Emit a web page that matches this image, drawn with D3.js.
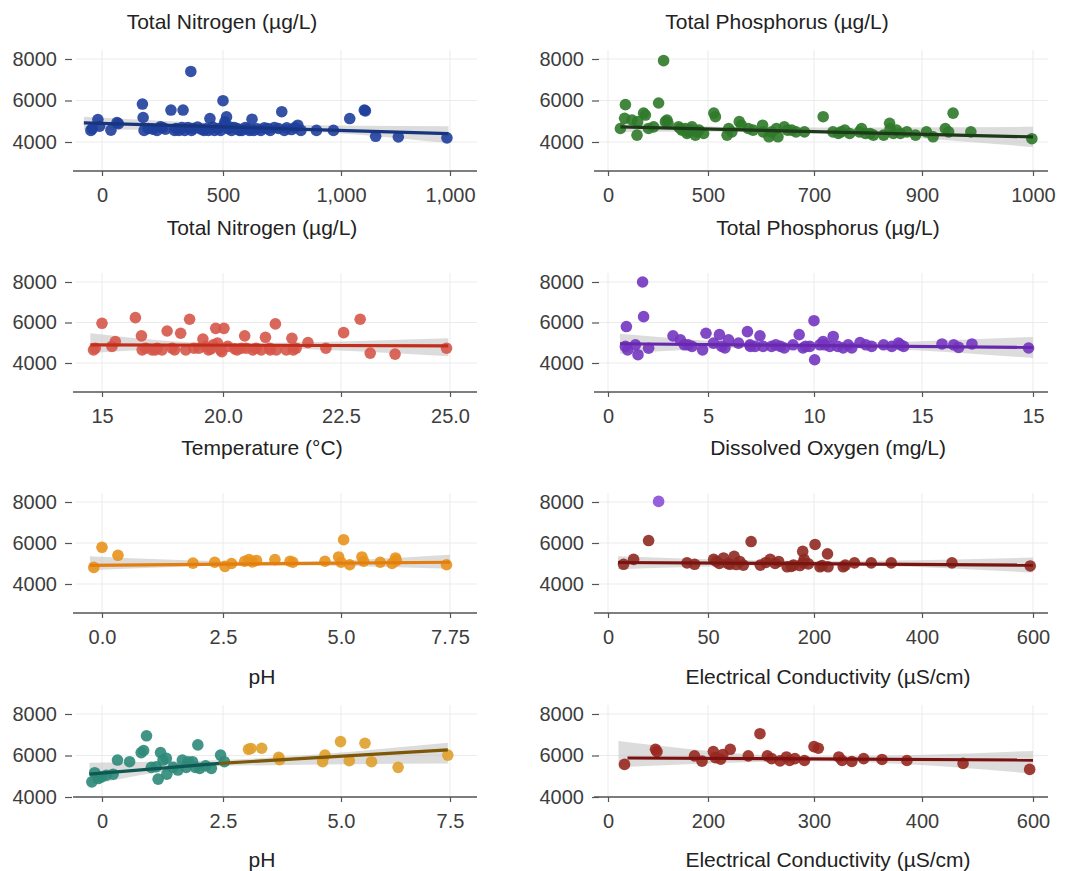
<!DOCTYPE html>
<html>
<head>
<meta charset="utf-8">
<script src="https://cdn.jsdelivr.net/npm/d3@7/dist/d3.min.js"></script>
<style>
body { margin: 0; background: #ffffff; }
svg text { font-family: "Liberation Sans", Arial, sans-serif; }
</style>
</head>
<body>
<svg id="chart" width="1083" height="871"></svg>
<script>
// ---- data ----
var yTicks = [4000, 6000, 8000];

// Total Nitrogen
var nitrogenTicks = [0, 500, 1000, 1500];
var nitrogenTickLabels = ["0", "500", "1,000", "1,000"];
var nitrogenPoints = [[-46,4560],[-40,4640],[-17,5080],[-10,4760],[37,4570],[62,4940],[68,4880],[167,5830],[170,5180],
    [174,4560],[191,4650],[227,4560],[241,4730],[262,4620],[285,5540],[306,4650],[318,4560],[335,5540],[342,4560],
    [355,4700],[367,7400],[378,4650],[395,4720],[421,4560],[429,4640],[446,5130],[458,4720],[465,4560],[480,4650],
    [500,5990],[505,4820],[508,4970],[515,5210],[522,4640],[536,4560],[548,4700],[558,4640],[570,4560],[580,4560],
    [595,4700],[605,4640],[623,5100],[630,4560],[645,4640],[660,4560],[675,4680],[700,4560],[718,4700],[735,4650],
    [749,5460],[760,4560],[790,4600],[817,4810],[830,4560],[896,4560],[968,4560],[1040,5130],[1107,5540],[1112,5500],
    [1159,4275],[1263,4240],[1486,4200],
    [210,4620],[250,4700],[300,4560],[330,4700],[370,4560],[410,4620],[440,4560],[490,4560],[530,4720],[565,4620],
    [612,4560],[690,4650],[770,4680],[805,4700]];
var nitrogenFit = [[-75,4920],[1493,4405]];
var nitrogenBand = [[-75,4600,5215],[700,4560,4840],[1493,3950,4760]];

// Total Phosphorus
var phosphorusTicks = [0, 500, 700, 900, 1000];
var phosphorusTickLabels = ["0", "500", "700", "900", "1000"];
var phosphorusPoints = [[62,4650],[83,5140],[87,5800],[120,5060],[145,4330],[148,4980],[178,5390],[187,5300],[203,4650],
    [228,4730],[253,5880],[278,7920],[287,4980],[295,5060],[300,4900],[353,4730],[370,4570],[387,4650],[403,4490],
    [420,4730],[437,4330],[455,4570],[478,4410],[511,5390],[514,5220],[536,4330],[539,4650],[559,4980],[563,4810],
    [576,4650],[603,4810],[604,4490],[615,4250],[629,4650],[632,4250],[644,4730],[650,4570],[666,4490],[682,4490],
    [717,5220],[735,4490],[745,4410],[757,4570],[766,4410],[784,4490],[788,4650],[804,4410],[810,4330],[829,4330],
    [840,4900],[841,4650],[847,4410],[860,4410],[872,4490],[888,4330],[904,4490],[910,4250],[921,4650],[924,4490],
    [928,5390],[944,4490],[999,4160],
    [362,4650],[395,4410],[412,4570],[445,4490],[545,4490],[585,4570],[620,4490],[658,4570],[750,4490],[795,4410],
    [853,4570]];
var phosphorusFit = [[62,4730],[1000,4245]];
var phosphorusBand = [[62,4490,4980],[600,4500,4700],[1000,3755,4730]];

// Temperature
var temperatureTicks = [15, 20, 22.5, 25];
var temperatureTickLabels = ["15", "20.0", "22.5", "25.0"];
var temperaturePoints = [[14.65,4650],[14.72,4730],[15.0,5960],[15.41,4820],[15.55,5060],[16.38,6240],[16.63,5340],
    [16.66,4650],[17.07,4650],[17.28,4730],[17.48,4650],[17.69,5580],[17.9,4730],[18.25,5470],[18.46,4650],[18.62,6160],
    [19.0,4730],[19.17,5180],[19.28,4820],[19.5,4700],[19.6,4900],[19.7,5710],[19.77,4980],[19.9,4650],[20.02,5710],
    [20.1,4820],[20.25,4700],[20.39,4730],[20.46,5340],[20.49,4730],[20.63,4650],[20.81,4650],[20.9,5270],[20.99,4730],
    [21.11,5930],[21.13,4650],[21.34,4650],[21.46,5220],[21.49,4650],[21.8,5010],[22.18,4730],[22.56,5500],[22.94,6160],
    [23.17,4490],[23.74,4440],[24.92,4730],
    [16.8,4730],[17.2,4650],[18.0,4650],[18.8,4730],[19.4,4650],[19.95,4560],[20.3,4650],[20.7,4730],[21.0,4650],
    [21.55,4730]];
var temperatureFit = [[14.52,4900],[24.96,4850]];
var temperatureBand = [[14.52,4490,5470],[20,4760,4980],[24.96,4330,5220]];

// Dissolved Oxygen
var oxygenTicks = [0, 5, 10, 15, 20];
var oxygenTickLabels = ["0", "5", "10", "15", "15"];
var oxygenPoints = [[0.92,5800],[0.87,4820],[0.98,4650],[1.37,4900],[1.5,4410],[1.73,8000],[1.78,6290],[2.03,4730],
    [3.25,5340],[3.62,5140],[3.82,4900],[4.2,4820],[4.73,4650],[4.9,5470],[5.26,4980],[5.54,5400],[5.65,4820],
    [5.97,5140],[6.44,4980],[6.86,5550],[6.98,4900],[7.22,4820],[7.45,5340],[7.6,4820],[8.0,4820],[8.42,4820],
    [8.6,4740],[9.01,4900],[9.3,5400],[9.48,4740],[9.8,4820],[10.0,6090],[10.03,4160],[10.27,4900],[10.42,5060],
    [10.73,4820],[10.89,5310],[11.35,4740],[11.58,4900],[11.75,4740],[12.13,5010],[12.67,4820],[13.22,4900],
    [13.91,4980],[14.15,4820],[15.9,4940],[16.43,4900],[16.65,4770],[17.25,4940],[19.8,4740],
    [4.0,4900],[5.8,4740],[7.0,4820],[8.2,4900],[9.6,4820],[10.5,4900],[11.1,4820],[12.4,4900],[13.6,4820],[14.0,4900]];
var oxygenFit = [[0.6,4950],[20,4770]];
var oxygenBand = [[0.6,4460,5450],[9,4800,4950],[20,4250,5290]];

// pH (orange)
var phTicks = [0, 2.5, 5, 7.5];
var phTickLabels = ["0.0", "2.5", "5.0", "7.75"];
var phPoints = [[-0.17,4810],[0,5790],[0.33,5400],[1.88,5020],[2.33,5060],[2.54,4860],[2.68,5000],[2.96,5110],
    [3.05,5190],[3.12,5080],[3.21,5150],[3.6,5190],[3.92,5110],[3.98,5060],[4.66,5110],[4.95,5320],[5.0,5060],
    [5.06,6160],[5.2,4940],[5.48,5320],[5.52,5110],[5.9,5060],[6.17,5000],[6.25,5270],[6.27,5140],[7.42,4940]];
var phFit = [[-0.25,4910],[7.5,5060]];
var phBand = [[-0.25,4670,5350],[3.5,4920,5080],[7.5,4750,5430]];

// Electrical Conductivity (row 3)
var ecTicks = [0, 50, 200, 400, 600];
var ecTickLabels = ["0", "50", "200", "400", "600"];
var ecPoints = [[7.8,4960],[12.8,5200],[20.3,6120],[39.5,5030],[43.3,4960],[58,5200],[62,5100],[72,5270],[78,5000],
    [81,4960],[87,5350],[95,5100],[100,4920],[111,6070],[124,4920],[138,5200],[145,5000],[150,5100],[162,4840],
    [171,4920],[180,4900],[184,5590],[185,5030],[186,5200],[202,5930],[211,4840],[225,5470],[226,4840],[254,4840],
    [275,5030],[306,5030],[343,5030],[454,5030],[595,4880],
    [66,5000],[90,4950],[132,5050],[168,4860],[192,4980],[215,4900],[258,4920]];
var ecOutlier = [[25.3,8030]];
var ecFit = [[5,5050],[600,4920]];
var ecBand = [[5,4720,5350],[200,4930,5120],[600,4560,5290]];

// pH (two groups)
var ph2Ticks = [0, 2.5, 5, 7.5];
var ph2TickLabels = ["0", "2.5", "5.0", "7.5"];
var ph2LowPoints = [[-0.21,4730],[-0.15,5170],[-0.08,4890],[-0.01,4970],[0.09,5050],[0.23,5100],[0.32,5780],
    [0.57,5700],[0.81,6140],[0.86,6240],[0.92,6950],[1.02,5430],[1.12,5460],[1.16,4860],[1.21,6140],[1.26,5780],
    [1.33,5860],[1.34,5100],[1.47,5430],[1.57,5300],[1.66,5780],[1.74,5430],[1.78,5700],[1.87,5700],[1.93,5430],
    [1.98,6510],[2.02,5380],[2.14,5500],[2.26,5380],[2.45,6020],[2.53,5700]];
var ph2HighPoints = [[3.04,6300],[3.09,6340],[3.32,6350],[3.68,5910],[3.7,5800],[4.61,5700],[4.66,6020],[4.99,6670],
    [5.19,5750],[5.55,6590],[5.7,5700],[6.31,5430],[7.45,6020]];
var ph2LowFit = [[-0.26,5100],[2.43,5620]];
var ph2HighFit = [[2.43,5620],[7.45,6270]];
var ph2Band = [[-0.26,4570,5650],[2.5,5490,5780],[7.45,5620,6620]];

// Electrical Conductivity (row 4)
var ec2Ticks = [0, 200, 300, 400, 600];
var ec2TickLabels = ["0", "200", "300", "400", "600"];
var ec2Points = [[33,5570],[95,6300],[98,6190],[173,5980],[188,5730],[205,6190],[207,5900],[212,5820],[214,6050],
    [221,6300],[238,5980],[249,7050],[256,5980],[260,5850],[268,5740],[274,5930],[277,5760],[282,5850],[291,5760],
    [300,6430],[304,6350],[323,5930],[326,5760],[335,5710],[346,5850],[363,5810],[386,5760],[474,5620],[594,5330]];
var ec2Fit = [[39,5880],[600,5780]];
var ec2Band = [[21,5430,6700],[300,5720,5950],[600,5130,6220]];

// ---- layout ----
var cols = [
    { tickPx: [102, 223, 341, 450], axisStart: 73, axisEnd: 477, yAxisX: 72, labelX: 262 },
    { tickPx: [608, 708, 814, 922, 1033], axisStart: 594, axisEnd: 1048, yAxisX: 599, labelX: 828 }
];
var rows = [
    { y8000: 59, y4000: 142, axisY: 171, labelY: 228 },
    { y8000: 282, y4000: 363, axisY: 392, labelY: 448 },
    { y8000: 502, y4000: 584, axisY: 613, labelY: 677 },
    { y8000: 714, y4000: 797, axisY: 797, labelY: 860 }
];

var panels = [
    { col: 0, row: 0, ticks: nitrogenTicks, tickLabels: nitrogenTickLabels, label: "Total Nitrogen (µg/L)",
      groups: [{ points: nitrogenPoints, color: "#1f3f9c" }],
      fits: [{ line: nitrogenFit, color: "#17357f" }], band: nitrogenBand },
    { col: 1, row: 0, ticks: phosphorusTicks, tickLabels: phosphorusTickLabels, label: "Total Phosphorus (µg/L)",
      groups: [{ points: phosphorusPoints, color: "#2f7a2a" }],
      fits: [{ line: phosphorusFit, color: "#1d3a18" }], band: phosphorusBand },
    { col: 0, row: 1, ticks: temperatureTicks, tickLabels: temperatureTickLabels, label: "Temperature (°C)",
      groups: [{ points: temperaturePoints, color: "#d65749" }],
      fits: [{ line: temperatureFit, color: "#c22e1b" }], band: temperatureBand },
    { col: 1, row: 1, ticks: oxygenTicks, tickLabels: oxygenTickLabels, label: "Dissolved Oxygen (mg/L)",
      groups: [{ points: oxygenPoints, color: "#7435c0" }],
      fits: [{ line: oxygenFit, color: "#6828ae" }], band: oxygenBand },
    { col: 0, row: 2, ticks: phTicks, tickLabels: phTickLabels, label: "pH",
      groups: [{ points: phPoints, color: "#e8921c" }],
      fits: [{ line: phFit, color: "#e37d0e" }], band: phBand },
    { col: 1, row: 2, ticks: ecTicks, tickLabels: ecTickLabels, label: "Electrical Conductivity (µS/cm)",
      groups: [{ points: ecPoints, color: "#8e2a22" }, { points: ecOutlier, color: "#8b4fd8" }],
      fits: [{ line: ecFit, color: "#7a1410" }], band: ecBand },
    { col: 0, row: 3, ticks: ph2Ticks, tickLabels: ph2TickLabels, label: "pH",
      groups: [{ points: ph2LowPoints, color: "#2e8a79" }, { points: ph2HighPoints, color: "#e0a02c" }],
      fits: [{ line: ph2LowFit, color: "#0e5752" }, { line: ph2HighFit, color: "#7c5808" }], band: ph2Band },
    { col: 1, row: 3, ticks: ec2Ticks, tickLabels: ec2TickLabels, label: "Electrical Conductivity (µS/cm)",
      groups: [{ points: ec2Points, color: "#982820" }],
      fits: [{ line: ec2Fit, color: "#7a1010" }], band: ec2Band }
];

var svg = d3.select("#chart");

// top titles
svg.append("text").attr("x", 222).attr("y", 22).attr("dy", "0.35em").attr("text-anchor", "middle")
    .attr("font-size", 21).attr("fill", "#222").text("Total Nitrogen (µg/L)");
svg.append("text").attr("x", 777).attr("y", 22).attr("dy", "0.35em").attr("text-anchor", "middle")
    .attr("font-size", 21).attr("fill", "#222").text("Total Phosphorus (µg/L)");

panels.forEach(drawPanel);

function drawPanel(p)
{
    var row = rows[p.row];
    var col = cols[p.col];
    var x = d3.scaleLinear().domain(p.ticks).range(col.tickPx);
    var y = d3.scaleLinear().domain([4000, 8000]).range([row.y4000, row.y8000]);
    var g = svg.append("g");

    // grid
    g.selectAll(".vgrid").data(p.ticks).enter().append("line")
        .attr("x1", d => x(d)).attr("x2", d => x(d))
        .attr("y1", row.y8000 - 9).attr("y2", row.axisY)
        .attr("stroke", "#ebebeb").attr("stroke-width", 1);
    g.selectAll(".hgrid").data(yTicks).enter().append("line")
        .attr("x1", col.axisStart + 3).attr("x2", col.axisEnd)
        .attr("y1", d => y(d)).attr("y2", d => y(d))
        .attr("stroke", "#ebebeb").attr("stroke-width", 1);

    // confidence band
    var area = d3.area()
        .x(d => x(d[0])).y0(d => y(d[1])).y1(d => y(d[2]))
        .curve(d3.curveMonotoneX);
    g.append("path").datum(p.band).attr("d", area)
        .attr("fill", "#c4c4c4").attr("opacity", 0.6);

    // points
    p.groups.forEach(function(grp)
    {
        g.selectAll(null).data(grp.points).enter().append("circle")
            .attr("cx", d => x(d[0])).attr("cy", d => y(d[1]))
            .attr("r", 5.8)
            .attr("fill", grp.color).attr("fill-opacity", 0.9);
    });

    // fitted lines
    var line = d3.line().x(d => x(d[0])).y(d => y(d[1]));
    p.fits.forEach(function(f)
    {
        g.append("path").datum(f.line).attr("d", line)
            .attr("fill", "none").attr("stroke", f.color).attr("stroke-width", 3.2);
    });

    // x axis
    g.append("line")
        .attr("x1", col.axisStart).attr("x2", col.axisEnd)
        .attr("y1", row.axisY).attr("y2", row.axisY)
        .attr("stroke", "#555").attr("stroke-width", 1.5);
    var xAxis = d3.axisBottom(x)
        .tickValues(p.ticks)
        .tickFormat(function(d, i) { return p.tickLabels[i]; })
        .tickSize(5).tickPadding(12);
    var xg = g.append("g").attr("transform", "translate(0," + row.axisY + ")").call(xAxis);
    xg.select(".domain").remove();
    xg.selectAll("line").attr("stroke", "#555").attr("stroke-width", 1.2);
    xg.selectAll("text").attr("font-size", 20).attr("fill", "#3d3d3d")
        .attr("font-family", "Liberation Sans, Arial, sans-serif");

    // y axis
    var yAxis = d3.axisLeft(y).tickValues(yTicks).tickFormat(d3.format("d")).tickSize(7).tickPadding(8);
    var yg = g.append("g").attr("transform", "translate(" + col.yAxisX + ",0)").call(yAxis);
    yg.select(".domain").remove();
    yg.selectAll("line").attr("stroke", "#555").attr("stroke-width", 1.2);
    yg.selectAll("text").attr("font-size", 20).attr("fill", "#3d3d3d")
        .attr("font-family", "Liberation Sans, Arial, sans-serif");

    // axis title
    g.append("text").attr("x", col.labelX).attr("y", row.labelY).attr("dy", "0.35em")
        .attr("text-anchor", "middle").attr("font-size", 21).attr("fill", "#222")
        .text(p.label);
}
</script>
</body>
</html>
